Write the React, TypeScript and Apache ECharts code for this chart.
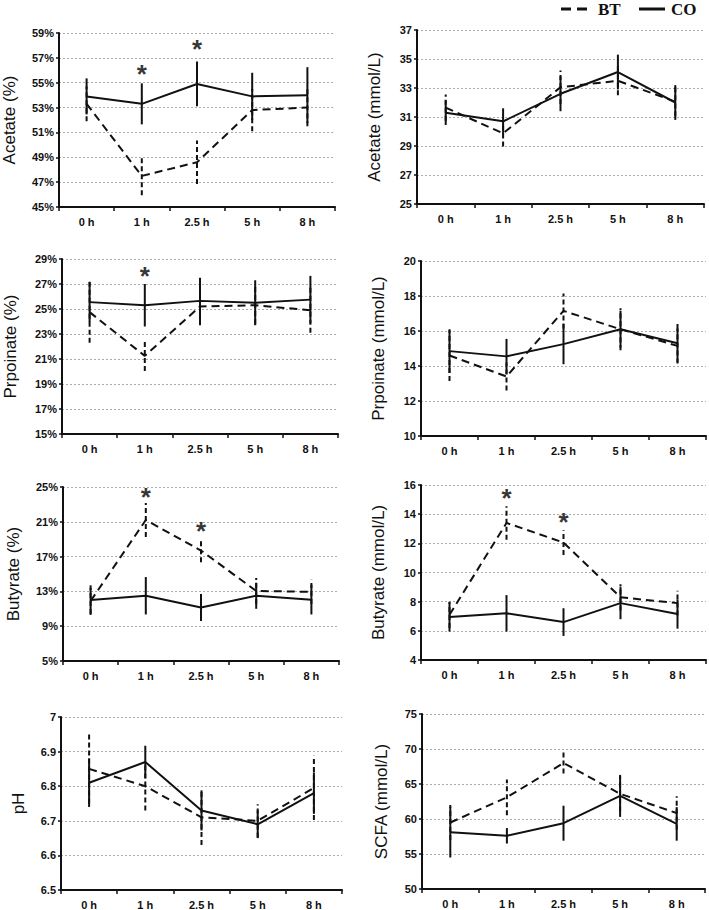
import React, { useEffect, useRef } from "react";
import * as echarts from "echarts";

const categories = ["0 h", "1 h", "2.5 h", "5 h", "8 h"];
const legendNames = ["BT", "CO"];

// Acetate (%)
const acetatePctBT = [53.3, 47.5, 48.6, 52.8, 53.0];
const acetatePctBTErr = [1.4, 1.55, 1.75, 1.7, 1.5];
const acetatePctCO = [53.9, 53.3, 54.9, 53.9, 54.0];
const acetatePctCOErr = [1.45, 1.65, 1.8, 1.9, 2.25];
const acetatePctStars = [[1, 56.2], [2, 58.2]];

// Acetate (mmol/L)
const acetateMmolBT = [31.65, 29.87, 33.05, 33.5, 32.05];
const acetateMmolBTErr = [0.9, 0.9, 1.15, 1.0, 1.0];
const acetateMmolCO = [31.3, 30.7, 32.6, 34.1, 32.0];
const acetateMmolCOErr = [0.85, 0.9, 1.2, 1.2, 1.2];

// Prpoinate (%)
const propPctBT = [24.75, 21.25, 25.2, 25.3, 24.9];
const propPctBTErr = [2.45, 1.2, 1.5, 1.5, 1.8];
const propPctCO = [25.55, 25.3, 25.65, 25.5, 25.75];
const propPctCOErr = [1.6, 1.7, 1.85, 1.8, 1.9];
const propPctStars = [[1, 28.15]];

// Prpoinate (mmol/L)
const propMmolBT = [14.6, 13.4, 17.15, 16.1, 15.15];
const propMmolBTErr = [1.45, 0.8, 1.0, 1.2, 1.0];
const propMmolCO = [14.85, 14.55, 15.25, 16.1, 15.3];
const propMmolCOErr = [1.25, 1.0, 1.15, 1.05, 1.1];

// Butyrate (%)
const butPctBT = [11.9, 21.2, 17.7, 13.05, 12.95];
const butPctBTErr = [1.5, 1.95, 1.35, 1.5, 1.4];
const butPctCO = [12.0, 12.5, 11.15, 12.5, 12.05];
const butPctCOErr = [1.7, 2.15, 1.55, 1.5, 1.7];
const butPctStars = [[1, 24.55], [2, 20.6]];

// Butyrate (mmol/L)
const butMmolBT = [7.1, 13.4, 12.05, 8.3, 7.9];
const butMmolBTErr = [0.9, 1.15, 0.85, 0.9, 0.85];
const butMmolCO = [6.95, 7.2, 6.6, 7.9, 7.15];
const butMmolCOErr = [1.0, 1.25, 0.95, 1.1, 1.0];
const butMmolStars = [[1, 15.5], [2, 13.9]];

// pH
const phBT = [6.85, 6.8, 6.71, 6.7, 6.795];
const phBTErr = [0.1, 0.07, 0.08, 0.048, 0.093];
const phCO = [6.81, 6.87, 6.73, 6.69, 6.78];
const phCOErr = [0.07, 0.047, 0.058, 0.04, 0.06];

// SCFA (mmol/L)
const scfaBT = [59.5, 63.1, 68.0, 63.6, 60.85];
const scfaBTErr = [2.5, 2.55, 1.5, 2.5, 2.4];
const scfaCO = [58.1, 57.6, 59.4, 63.3, 59.3];
const scfaCOErr = [3.6, 1.1, 2.5, 3.0, 2.4];

const panels = [
  { name: "Acetate (%)", min: 45, max: 59, interval: 2, pct: true, bt: acetatePctBT, btErr: acetatePctBTErr, co: acetatePctCO, coErr: acetatePctCOErr, stars: acetatePctStars },
  { name: "Acetate (mmol/L)", min: 25, max: 37, interval: 2, pct: false, bt: acetateMmolBT, btErr: acetateMmolBTErr, co: acetateMmolCO, coErr: acetateMmolCOErr, stars: [] },
  { name: "Prpoinate (%)", min: 15, max: 29, interval: 2, pct: true, bt: propPctBT, btErr: propPctBTErr, co: propPctCO, coErr: propPctCOErr, stars: propPctStars },
  { name: "Prpoinate (mmol/L)", min: 10, max: 20, interval: 2, pct: false, bt: propMmolBT, btErr: propMmolBTErr, co: propMmolCO, coErr: propMmolCOErr, stars: [] },
  { name: "Butyrate (%)", min: 5, max: 25, interval: 4, pct: true, bt: butPctBT, btErr: butPctBTErr, co: butPctCO, coErr: butPctCOErr, stars: butPctStars },
  { name: "Butyrate (mmol/L)", min: 4, max: 16, interval: 2, pct: false, bt: butMmolBT, btErr: butMmolBTErr, co: butMmolCO, coErr: butMmolCOErr, stars: butMmolStars },
  { name: "pH", min: 6.5, max: 7, interval: 0.1, pct: false, bt: phBT, btErr: phBTErr, co: phCO, coErr: phCOErr, stars: [] },
  { name: "SCFA (mmol/L)", min: 50, max: 75, interval: 5, pct: false, bt: scfaBT, btErr: scfaBTErr, co: scfaCO, coErr: scfaCOErr, stars: [] },
];

// layout: grid edges in px, and name gap
const layout = [
  { l: 59, r: 335, t: 33, b: 207, gap: 41 },
  { l: 417, r: 704, t: 30, b: 204, gap: 34 },
  { l: 62, r: 338, t: 259, b: 434, gap: 43 },
  { l: 421, r: 706, t: 261, b: 436, gap: 34 },
  { l: 63, r: 339, t: 487, b: 661, gap: 41 },
  { l: 421, r: 706, t: 485, b: 660, gap: 34 },
  { l: 61, r: 342, t: 717, b: 891, gap: 34 },
  { l: 422, r: 705, t: 714, b: 889, gap: 32 },
];

const INK = "#111";
const FONT = "'Liberation Sans', Arial, sans-serif";
const SERIF = "'Liberation Serif', 'Times New Roman', serif";

function errRender(dashed: boolean) {
  return (params: any, api: any) => {
    const x = api.value(0);
    const p1 = api.coord([x, api.value(1)]);
    const p2 = api.coord([x, api.value(2)]);
    return {
      type: "line",
      shape: { x1: p1[0], y1: p1[1], x2: p2[0], y2: p2[1] },
      style: { stroke: INK, lineWidth: 2, lineDash: dashed ? [5, 3] : null },
    };
  };
}

function buildOption() {
  const grid: any[] = [];
  const xAxis: any[] = [];
  const yAxis: any[] = [];
  const series: any[] = [];
  panels.forEach((p, i) => {
    const L = layout[i];
    grid.push({ left: L.l, top: L.t, width: L.r - L.l, height: L.b - L.t, containLabel: false });
    xAxis.push({
      type: "category",
      gridIndex: i,
      data: categories,
      boundaryGap: true,
      axisLine: { show: true, lineStyle: { color: INK, width: 2 } },
      axisTick: { show: true, interval: 0, length: 4, lineStyle: { color: INK, width: 1.5 } },
      axisLabel: { interval: 0, color: INK, fontFamily: FONT, fontWeight: "bold", fontSize: 11, margin: 9 },
      splitLine: { show: false },
    });
    yAxis.push({
      type: "value",
      gridIndex: i,
      min: p.min,
      max: p.max,
      interval: p.interval,
      name: p.name,
      nameLocation: "middle",
      nameGap: L.gap,
      nameTextStyle: { fontFamily: FONT, fontSize: 17, color: INK },
      axisLine: { show: true, lineStyle: { color: INK, width: 2 } },
      axisTick: { show: true, length: 3, lineStyle: { color: INK, width: 1.5 } },
      axisLabel: {
        color: INK,
        fontFamily: FONT,
        fontWeight: "bold",
        fontSize: 11,
        margin: 5,
        formatter: p.pct ? "{value}%" : (v: number) => String(Math.round(v * 100) / 100),
      },
      splitLine: { show: true, lineStyle: { color: "#aaa", type: [2, 2], width: 1 } },
    });
    series.push({
      type: "line",
      name: legendNames[0],
      xAxisIndex: i,
      yAxisIndex: i,
      data: p.bt,
      symbol: "none",
      lineStyle: { color: INK, width: 2, type: [8, 5] },
      itemStyle: { color: INK },
      z: 3,
    });
    series.push({
      type: "line",
      name: legendNames[1],
      xAxisIndex: i,
      yAxisIndex: i,
      data: p.co,
      symbol: "none",
      lineStyle: { color: INK, width: 2, type: "solid" },
      itemStyle: { color: INK },
      z: 3,
    });
    series.push({
      type: "custom",
      name: "BT error",
      xAxisIndex: i,
      yAxisIndex: i,
      data: p.bt.map((v, k) => [k, v - p.btErr[k], v + p.btErr[k]]),
      encode: { x: 0, y: [1, 2] },
      renderItem: errRender(true),
      z: 4,
    });
    series.push({
      type: "custom",
      name: "CO error",
      xAxisIndex: i,
      yAxisIndex: i,
      data: p.co.map((v, k) => [k, v - p.coErr[k], v + p.coErr[k]]),
      encode: { x: 0, y: [1, 2] },
      renderItem: errRender(false),
      z: 4,
    });
    if (p.stars.length) {
      series.push({
        type: "scatter",
        name: "sig",
        xAxisIndex: i,
        yAxisIndex: i,
        data: p.stars,
        symbolSize: 0,
        label: {
          show: true,
          position: "inside",
          formatter: "*",
          fontFamily: FONT,
          fontWeight: "bold",
          fontSize: 26,
          color: "#000",
          offset: [0, 6],
        },
        z: 5,
      });
    }
  });

  const legendY = 9;
  const graphic: any[] = [
    {
      type: "line",
      shape: { x1: 561, y1: legendY, x2: 588, y2: legendY },
      style: { stroke: INK, lineWidth: 3, lineDash: [10, 6] },
    },
    {
      type: "text",
      x: 598,
      y: legendY,
      style: { text: legendNames[0], font: `bold 17px ${SERIF}`, fill: INK, textVerticalAlign: "middle", textAlign: "left" },
    },
    {
      type: "line",
      shape: { x1: 639, y1: legendY, x2: 665, y2: legendY },
      style: { stroke: INK, lineWidth: 3 },
    },
    {
      type: "text",
      x: 671,
      y: legendY,
      style: { text: legendNames[1], font: `bold 17px ${SERIF}`, fill: INK, textVerticalAlign: "middle", textAlign: "left" },
    },
  ];

  return {
    animation: false,
    backgroundColor: "#fff",
    grid,
    xAxis,
    yAxis,
    series,
    graphic,
  };
}

export default function App() {
  const ref = useRef<HTMLDivElement>(null);
  useEffect(() => {
    if (!ref.current) return;
    const chart = echarts.init(ref.current, undefined, { renderer: "svg" });
    chart.setOption(buildOption() as any);
    return () => chart.dispose();
  }, []);
  return (
    <div
      ref={ref}
      style={{ position: "absolute", left: 0, top: 0, width: 709, height: 910, background: "#fff" }}
    />
  );
}
